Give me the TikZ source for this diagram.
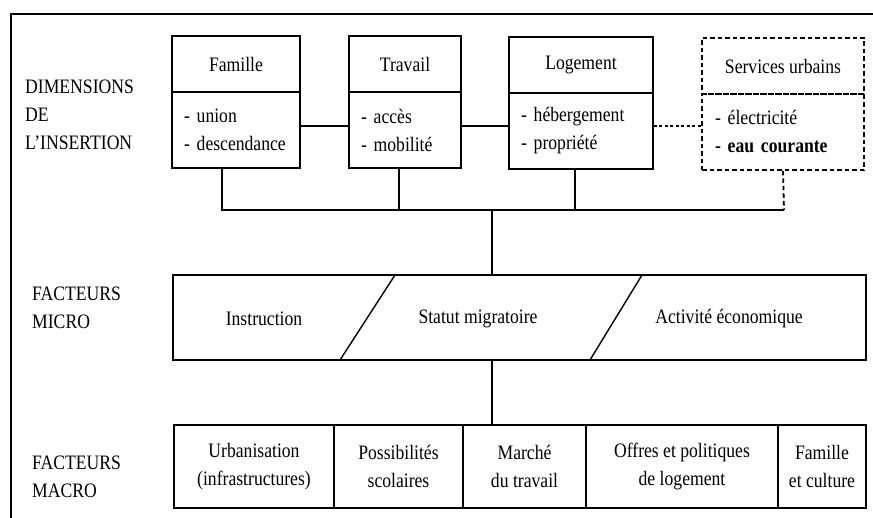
\documentclass[tikz,border=0pt]{standalone}
\usepackage{fontspec}
\setmainfont[FakeStretch=0.86]{Liberation Serif}
\begin{document}
\begin{tikzpicture}[x=1pt,y=-1pt,
  every node/.style={font=\fontsize{20.5}{28}\selectfont},
  ln/.style={line width=1.4pt},
  dsh/.style={line width=1.8pt, dash pattern=on 4.5pt off 3pt},
  head/.style={draw, line width=1.4pt, minimum height=56pt, inner sep=0pt, align=center},
  body/.style={draw, line width=1.4pt, minimum height=76pt, inner xsep=12pt, inner ysep=0pt, align=left,
    execute at begin node={\hyphenpenalty=10000\exhyphenpenalty=10000}},
  cell/.style={draw, line width=1.4pt, minimum height=83pt, inner sep=0pt, align=center},
  lbl/.style={anchor=west, align=left, inner sep=0pt}
]
\useasboundingbox (0,0) rectangle (873,518);
\fill[white] (0,0) rectangle (873,518);
% partial frame
\draw[ln] (873,14) -- (11,14) -- (11,518);

% left labels
\node[lbl] (ldim) at (25,115) {DIMENSIONS\\DE\\L'INSERTION};
\node[lbl] (lmicro) at (32,308) {FACTEURS\\MICRO};
\node[lbl] (lmacro) at (32,477) {FACTEURS\\MACRO};

% dimension boxes
\node[head, minimum width=128pt] (famH) at (236,64) {Famille};
\node[body, text width=104pt] (famB) at (236,130) {- union\\- descendance};
\node[head, minimum width=112pt] (travH) at (405,64) {Travail};
\node[body, text width=88pt] (travB) at (405,130) {- accès\\- mobilité};
\node[head, minimum width=144pt] (logH) at (581,65) {Logement};
\node[body, text width=120pt] (logB) at (581,131) {- hébergement\\- propriété};
\node[head, dsh, minimum width=162pt] (servH) at (783,66) {Services urbains};
\node[body, dsh, text width=136pt, inner xsep=13pt] (servB) at (783,132) {- électricité\\\textbf{- eau courante}};

% horizontal links
\draw[ln] ([yshift=4pt]famB.east) -- ([yshift=4pt]famB.east -| travB.west);
\draw[ln] ([yshift=4pt]travB.east) -- ([yshift=4pt]travB.east -| logB.west);
\draw[line width=1.4pt, dash pattern=on 3pt off 2.5pt] ([yshift=5pt]logB.east) -- ([yshift=5pt]logB.east -| servB.west);

% bus
\coordinate (busE) at (784,210);
\coordinate (busM) at (492,210);
\draw[ln] ([xshift=-14pt]famB.south) |- (busE);
\draw[ln] ([xshift=-6pt]travB.south) -- ++(0,42);
\draw[ln] ([xshift=-6pt]logB.south) -- ++(0,41);
\draw[dsh] (servB.south) -- (busE);

% micro
\node[draw, line width=1.4pt, minimum width=693pt, minimum height=85pt, inner sep=0pt] (micro) at (519.5,317.5) {};
\draw[ln] (395,275) -- (340,360);
\draw[ln] (642,275) -- (590,360);
\node (instr) at (264,319) {Instruction};
\node (statut) at (478,319) {Statut migratoire};
\node (activ) at (729,319) {Activité économique};

\draw[ln] (busM) -- (busM |- micro.north);

% macro
\node[cell, minimum width=160pt] (m1) at (254,466.5) {Urbanisation\\(infrastructures)};
\node[cell, minimum width=129pt] (m2) at (398.5,466.5) {Possibilités\\scolaires};
\node[cell, minimum width=123pt] (m3) at (524.5,466.5) {Marché\\du travail};
\node[cell, minimum width=192pt] (m4) at (682,466.5) {Offres et politiques\\de logement};
\node[cell, minimum width=88pt] (m5) at (822,466.5) {Famille\\et culture};

\draw[ln] (busM |- micro.south) -- (busM |- m3.north);
\end{tikzpicture}
\end{document}
